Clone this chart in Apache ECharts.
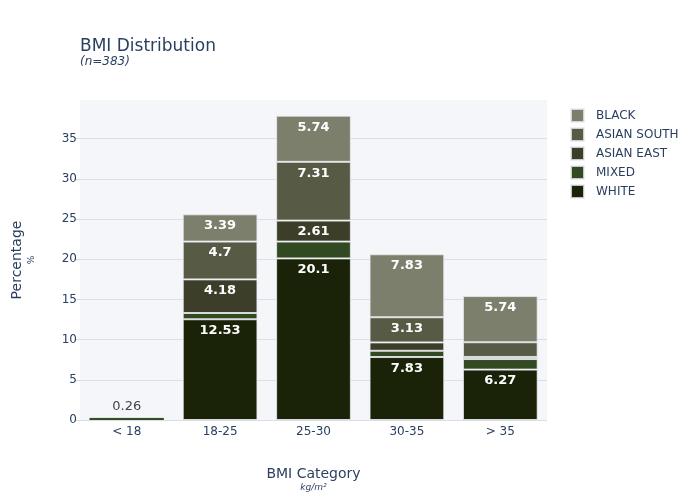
<!DOCTYPE html>
<html>
<head>
<meta charset="utf-8">
<script src="https://cdn.jsdelivr.net/npm/echarts@6/dist/echarts.min.js"></script>
<style>
  html, body { margin: 0; padding: 0; background: #fff; }
  #chart { width: 700px; height: 500px; }
</style>
</head>
<body>
<div id="chart"></div>
<script>
  var categories = ['< 18', '18-25', '25-30', '30-35', '> 35'];

  // percentages of n=383, bottom of the stack first
  var white = [0.26, 12.53, 20.1, 7.83, 6.27];
  var mixed = [0, 0.78, 2.09, 0.78, 1.31];
  var asianEast = [0, 4.18, 2.61, 1.04, 0.26];
  var asianSouth = [0, 4.7, 7.31, 3.13, 1.83];
  var black = [0, 3.39, 5.74, 7.83, 5.74];

  var groups = [
    { name: 'WHITE', values: white, color: '#1a2208' },
    { name: 'MIXED', values: mixed, color: '#314a21' },
    { name: 'ASIAN EAST', values: asianEast, color: '#3c3e29' },
    { name: 'ASIAN SOUTH', values: asianSouth, color: '#575b45' },
    { name: 'BLACK', values: black, color: '#7b7f6b' }
  ];

  var font = 'DejaVu Sans, Verdana, sans-serif';
  var textColor = '#2a3f5f';

  var series = groups.map(function (g) {
    return {
      name: g.name,
      type: 'bar',
      stack: 'bmi',
      barCategoryGap: '20%',
      itemStyle: {
        color: g.color,
        borderColor: 'rgba(235,236,240,0.8)',
        borderWidth: 1
      },
      label: {
        show: true,
        position: 'insideTop',
        distance: 5,
        color: '#fff',
        fontWeight: 'bold',
        fontSize: 13,
        fontFamily: font,
        formatter: function (p) {
          return p.value >= 2.5 ? String(p.value) : '';
        }
      },
      data: g.values.map(function (v) {
        if (v === 0) {
          // empty segment: no outline
          return { value: v, itemStyle: { borderWidth: 0 } };
        }
        // tiny bar: value written above it, like the original
        if (v < 1 && g.name === 'WHITE') {
          return {
            value: v,
            itemStyle: { borderColor: '#314a21', borderWidth: 1 },
            label: {
              show: true,
              position: 'top',
              distance: 5,
              color: '#444',
              fontWeight: 'normal',
              formatter: String(v)
            }
          };
        }
        return v;
      })
    };
  });

  var myChart = echarts.init(document.getElementById('chart'), null, { renderer: 'canvas' });

  var option = {
    backgroundColor: '#fff',
    animation: false,
    title: {
      text: 'BMI Distribution',
      subtext: '(n=383)',
      left: 75,
      top: 33,
      itemGap: 1,
      textStyle: { fontSize: 17, fontWeight: 'normal', color: textColor, fontFamily: font },
      subtextStyle: { fontSize: 12, fontStyle: 'italic', color: textColor, fontFamily: font }
    },
    legend: {
      orient: 'vertical',
      left: 570,
      top: 108,
      padding: 0,
      itemWidth: 13,
      itemHeight: 13,
      itemGap: 4,
      icon: 'rect',
      data: ['BLACK', 'ASIAN SOUTH', 'ASIAN EAST', 'MIXED', 'WHITE'],
      textStyle: { fontSize: 12, color: textColor, fontFamily: font, padding: [0, 0, 0, 7], lineHeight: 13 }
    },
    grid: {
      left: 80,
      right: 153,
      top: 100,
      bottom: 80,
      containLabel: false,
      outerBoundsMode: 'none',
      show: true,
      backgroundColor: '#f5f6fa',
      borderWidth: 0
    },
    xAxis: {
      type: 'category',
      data: categories,
      name: '{a|BMI Category}\n{b|kg/m²}',
      nameLocation: 'middle',
      nameGap: 46,
      nameTextStyle: {
        rich: {
          a: { fontSize: 14, color: textColor, fontFamily: font, lineHeight: 16 },
          b: { fontSize: 9, fontStyle: 'italic', color: textColor, fontFamily: font, lineHeight: 12 }
        }
      },
      axisLine: { show: false },
      axisTick: { show: false },
      axisLabel: { fontSize: 12, color: textColor, fontFamily: font, margin: 6 }
    },
    yAxis: {
      type: 'value',
      min: 0,
      max: 39.8,
      interval: 5,
      name: '{a|Percentage}\n{b|%}',
      nameLocation: 'middle',
      nameGap: 42,
      nameRotate: 90,
      nameTextStyle: {
        rich: {
          a: { fontSize: 14, color: textColor, fontFamily: font, lineHeight: 18 },
          b: { fontSize: 9, color: textColor, fontFamily: font, lineHeight: 12 }
        }
      },
      axisLine: { show: false },
      axisTick: { show: true, length: 5, lineStyle: { color: '#d8dbe3' } },
      axisLabel: { fontSize: 12, color: textColor, fontFamily: font, margin: 3, showMaxLabel: false },
      splitLine: { show: true, showMaxLine: false, lineStyle: { color: '#dcdee6', width: 1 } }
    },
    series: series
  };

  myChart.setOption(option);
</script>
</body>
</html>
